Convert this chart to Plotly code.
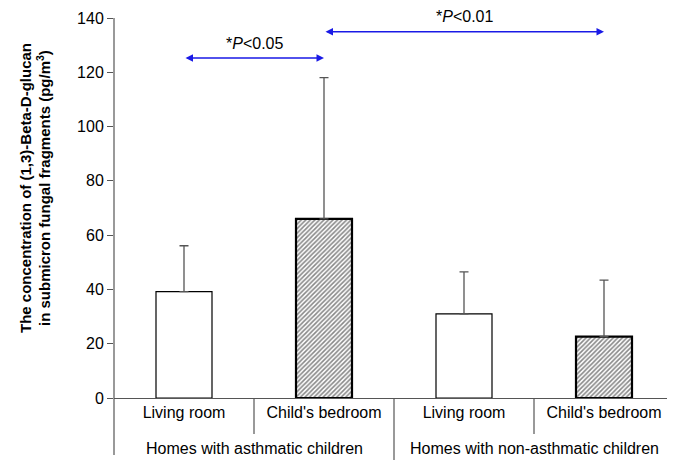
import plotly.graph_objects as go

rooms = ["Living room", "Child's bedroom", "Living room", "Child's bedroom"]
groups = ["Homes with asthmatic children", "Homes with non-asthmatic children"]
means = [39.2, 66.0, 31.0, 22.6]
errors_up = [16.9, 52.0, 15.5, 20.8]
patterns = ["", "/", "", "/"]
y_ticks = [0, 20, 40, 60, 80, 100, 120, 140]
# (from bar, to bar, arrow y value, label, label y position in paper units)
comparisons = [(0, 1, 125.3, "*<i>P</i><0.05", 0.933), (1, 3, 134.9, "*<i>P</i><0.01", 1.005)]

FONT = "Liberation Sans, Arial, sans-serif"
x_pos = list(range(len(rooms)))

# plot area in figure pixels (page body has an 8px offset)
L, T, PW, PH = 106, 10, 560, 380

fig = go.Figure()
fig.add_trace(go.Bar(
    x=x_pos, y=means, width=0.4,
    marker=dict(
        color="white",
        line=dict(color="black", width=[1.2, 2.2, 1.2, 2.2]),
        pattern=dict(shape=patterns, fgcolor="#111111", bgcolor="white", size=3.2, solidity=0.5),
    ),
    error_y=dict(type="data", symmetric=False, array=errors_up,
                 arrayminus=[0] * len(means), color="#555555", thickness=1.3, width=4.5),
    showlegend=False,
))

fig.update_layout(
    width=675, height=460,
    margin=dict(l=L, r=675 - L - PW, t=T, b=460 - T - PH, autoexpand=False),
    plot_bgcolor="white", paper_bgcolor="white",
    font=dict(family=FONT, size=16, color="black"),
)
fig.update_yaxes(range=[0, 140], tickvals=y_ticks, ticks="outside", ticklen=6,
                 tickcolor="#555555", tickwidth=1.2, showgrid=False, zeroline=False,
                 showline=False, automargin=False, tickfont=dict(size=16, family=FONT))
fig.update_xaxes(range=[-0.5, 3.5], tickvals=x_pos, ticktext=rooms, ticks="",
                 showgrid=False, zeroline=False, showline=True, linecolor="#555555",
                 linewidth=1.2, automargin=False, tickfont=dict(size=16, family=FONT))

# y axis line extending below zero
fig.add_shape(type="line", xref="paper", yref="paper", x0=0, x1=0, y0=-0.15, y1=1,
              line=dict(color="#555555", width=1.2))
# category separators
for xb, long in [(0.5, False), (1.5, True), (2.5, False), (3.5, True)]:
    fig.add_shape(type="line", xref="x", yref="paper", x0=xb, x1=xb, y0=0,
                  y1=-0.17 if long else -0.095, line=dict(color="#555555", width=1.2))

# group labels
for gi, g in enumerate(groups):
    fig.add_annotation(x=2 * gi + 0.5, xref="x", y=-0.132, yref="paper", text=g,
                       showarrow=False, font=dict(size=16, family=FONT), yanchor="middle")

# comparison arrows
for a, b, yv, label, ylab in comparisons:
    fig.add_annotation(x=b, y=yv, ax=a, ay=yv, xref="x", yref="y", axref="x", ayref="y",
                       text="", showarrow=True, arrowhead=2, startarrowhead=2,
                       arrowside="end+start", arrowsize=1, arrowwidth=1.5,
                       arrowcolor="#1a1ae6", standoff=0, startstandoff=0)
    fig.add_annotation(x=(a + b) / 2, y=ylab, xref="x", yref="paper", text=label,
                       showarrow=False, font=dict(size=16, family=FONT), yanchor="middle")

# y axis title (two lines)
title_lines = ["The concentration of (1,3)-Beta-D-glucan",
               "in submicron fungal fragments (pg/m<sup>3</sup>)"]
for i, line in enumerate(title_lines):
    xpx = 18 + 18 * i
    fig.add_annotation(x=(xpx - L) / PW, y=(T + PH - 180) / PH, xref="paper", yref="paper",
                       text="<b>" + line + "</b>", showarrow=False, textangle=-90,
                       font=dict(size=15, family=FONT), xanchor="center", yanchor="middle")

fig.write_html("out.html")
